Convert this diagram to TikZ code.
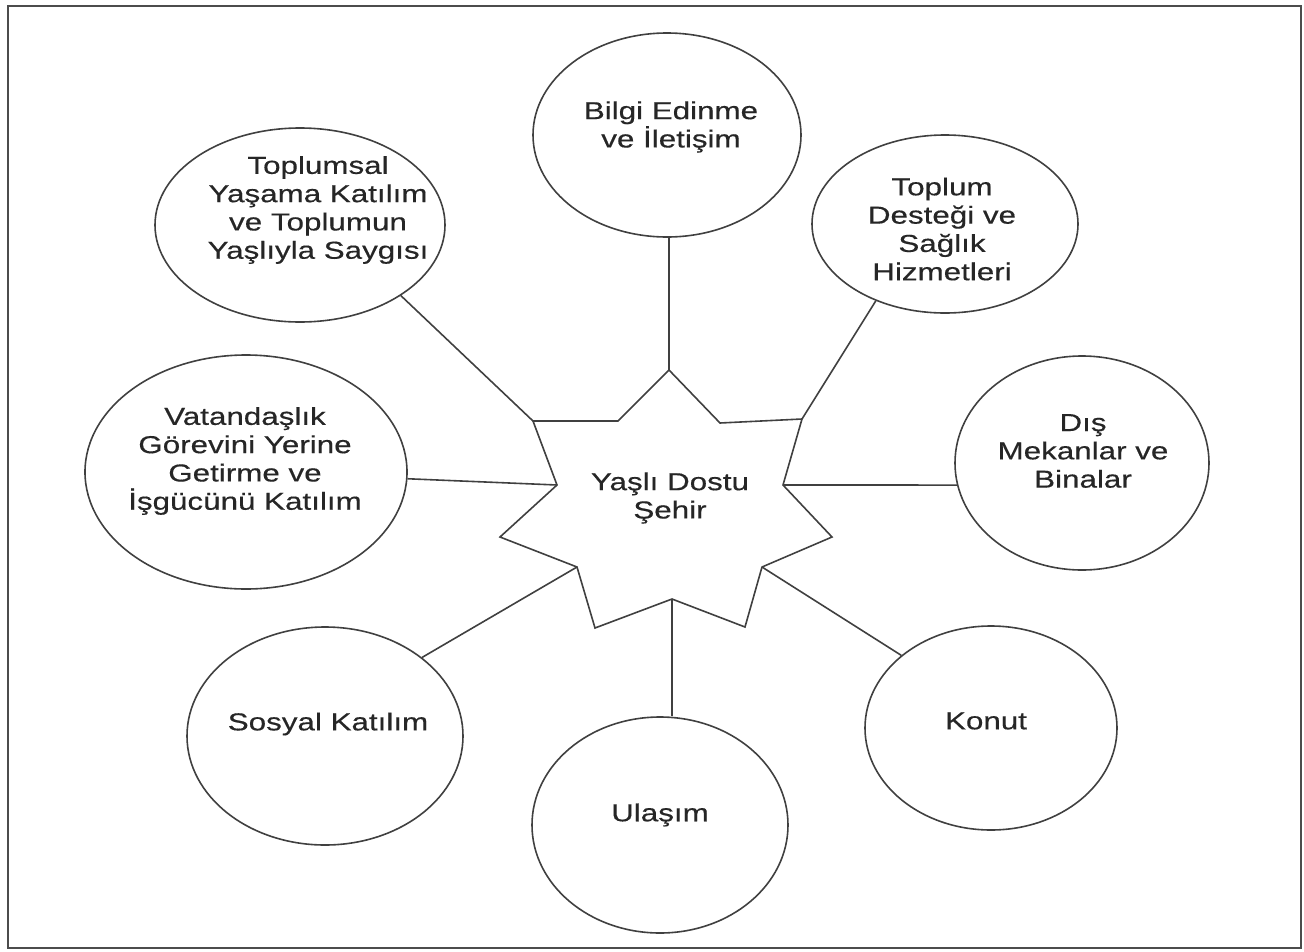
\documentclass[tikz,border=0pt]{standalone}
\usepackage{fontspec}
\setmainfont{Liberation Sans}[FakeStretch=1.28,FakeBold=0.4]
\usetikzlibrary{shapes.geometric}
\begin{document}
\begin{tikzpicture}[x=1pt,y=-1pt,
  bub/.style={draw=black!75, line width=1.6pt, ellipse, inner sep=0pt},
  lbl/.style={align=center, text=black!85, font=\fontsize{24.5}{28.3}\selectfont, inner sep=0pt},
  con/.style={draw=black!75, line width=1.6pt}]
\useasboundingbox (0,0) rectangle (1304,951);
\draw[black!70, line width=2.2pt] (8,6) rectangle (1301,948);

% bubbles
\node[bub, minimum width=268pt, minimum height=204pt] (bilgi) at (667,135) {};
\node[bub, minimum width=290pt, minimum height=194pt] (tops) at (300,225) {};
\node[bub, minimum width=266pt, minimum height=178pt] (topd) at (945,224) {};
\node[bub, minimum width=322pt, minimum height=234pt] (vat) at (246,472) {};
\node[bub, minimum width=254pt, minimum height=214pt] (dis) at (1082,463) {};
\node[bub, minimum width=276pt, minimum height=218pt] (sos) at (325,736) {};
\node[bub, minimum width=256pt, minimum height=216pt] (ula) at (660,825) {};
\node[bub, minimum width=252pt, minimum height=204pt] (kon) at (991,728) {};

% labels
\node[lbl] (tbilgi) at (671,127) {Bilgi Edinme\\ve İletişim};
\node[lbl] (ttops) at (318,210) {Toplumsal\\Yaşama Katılım\\ve Toplumun\\Yaşlıyla Saygısı};
\node[lbl] (ttopd) at (942,229) {Toplum\\Desteği ve\\Sağlık\\Hizmetleri};
\node[lbl] (tvat) at (245,461) {Vatandaşlık\\Görevini Yerine\\Getirme ve\\İşgücünü Katılım};
\node[lbl] (tdis) at (1083,451) {Dış\\Mekanlar ve\\Binalar};
\node[lbl] (tsos) at (328,724) {Sosyal Katılım};
\node[lbl] (tula) at (660,815) {Ulaşım};
\node[lbl] (tkon) at (986,721) {Konut};

% star
\coordinate (sT) at (669,370);
\coordinate (iUR) at (720,423);
\coordinate (sUR) at (802,419);
\coordinate (iR) at (783,485);
\coordinate (sR) at (832,537);
\coordinate (iLR) at (762,567);
\coordinate (sLR) at (745,627);
\coordinate (iB) at (672,599);
\coordinate (sLL) at (595,628);
\coordinate (iLL) at (577,567);
\coordinate (sL) at (500,537);
\coordinate (iL) at (557,485);
\coordinate (sUL) at (533,421);
\coordinate (iUL) at (618,421);
\draw[con, fill=white, line join=miter] (sT) -- (iUR) -- (sUR) -- (iR) -- (sR) -- (iLR) -- (sLR) -- (iB) -- (sLL) -- (iLL) -- (sL) -- (iL) -- (sUL) -- (iUL) -- cycle;
\node[lbl] (tcen) at (670,498) {Yaşlı Dostu\\Şehir};

% connectors
\draw[con] (sT) -- (bilgi.south -| sT);
\draw[con] (sUL) -- (tops.-35);
\draw[con] (sUR) -- (topd.228);
\draw[con] (iL) -- (vat);
\draw[con] (iR) -- (dis.190);
\draw[con] (iLL) -- (sos.39);
\draw[con] (iLR) -- (kon.141);
\draw[con] (iB) -- (ula.north -| iB);
\end{tikzpicture}
\end{document}
